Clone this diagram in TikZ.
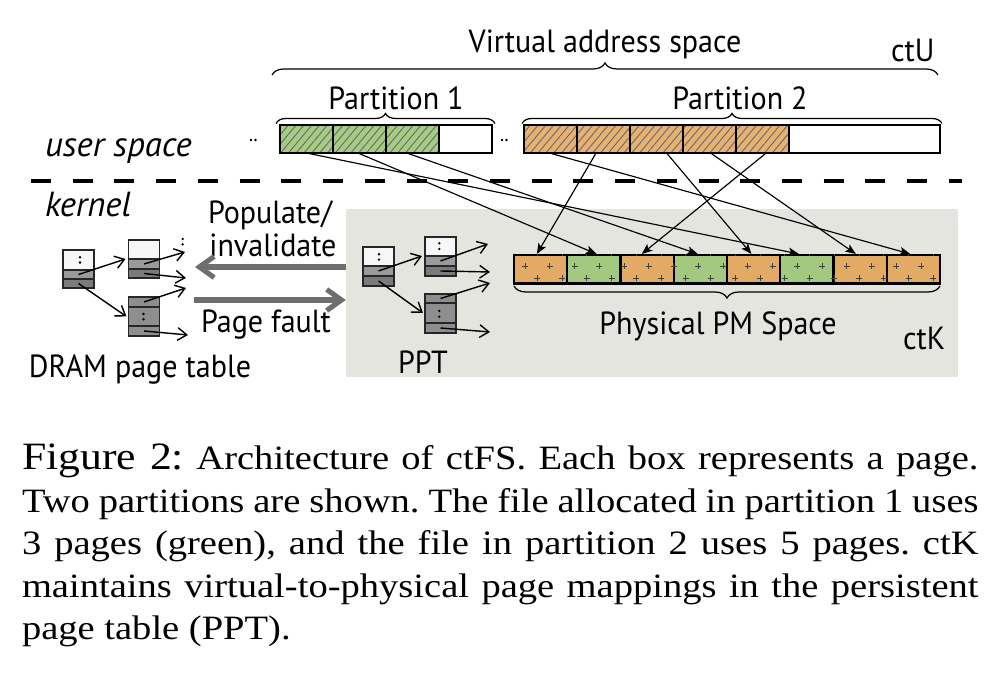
\documentclass[tikz,border=0pt]{standalone}
\usepackage{fontspec}
\usepackage{graphicx}
\usetikzlibrary{arrows.meta,decorations.pathreplacing,patterns.meta,calc}
\newfontfamily\labfont{PT Sans}[FakeStretch=0.94]
\newfontfamily\labitfont{PT Sans Italic}
\newfontfamily\capfont{Liberation Serif}
\newcommand\capline[1]{\scalebox{1.13}[1]{\hbox to 8.46cm{#1}}}
\definecolor{pmorange}{HTML}{E3AA66}
\definecolor{pmgreen}{HTML}{A2C97F}
\definecolor{vorange}{HTML}{E6B274}
\definecolor{vgreen}{HTML}{A6CB84}
\definecolor{kbg}{HTML}{E5E5E0}
\definecolor{bigarrow}{HTML}{6E6E6E}
\definecolor{ptgray}{HTML}{9A9A9A}
\definecolor{ptdark}{HTML}{7B7B7B}
\definecolor{ptmid}{HTML}{8E8E8E}
\frenchspacing
\begin{document}
\begin{tikzpicture}[x=0.01cm, y=-0.01cm,
  lab/.style={font=\labfont\fontsize{9.1}{10}\selectfont, inner sep=0pt, outer sep=0pt},
  labit/.style={font=\labitfont\fontsize{9.9}{11}\selectfont, inner sep=0pt, outer sep=0pt},
  capn/.style={font=\capfont\fontsize{9.7}{12}\selectfont, inner sep=0pt, outer sep=0pt},
  vbox/.style={draw=black, line width=0.55pt, minimum width=0.53cm, minimum height=0.28cm, inner sep=0pt, outer sep=0pt},
  vgr/.style={vbox, preaction={fill=vgreen}, pattern={Lines[angle=50,distance=1.7pt,line width=0.25pt]}, pattern color=black!60},
  vor/.style={vbox, preaction={fill=vorange}, pattern={Lines[angle=50,distance=1.7pt,line width=0.25pt]}, pattern color=black!60},
  pbox/.style={draw=black, line width=0.65pt, minimum width=0.5325cm, minimum height=0.285cm, inner sep=0pt, outer sep=0pt},
  pgr/.style={pbox, fill=pmgreen},
  por/.style={pbox, fill=pmorange},
  row/.style={draw=black!85, line width=0.45pt, minimum width=0.31cm, inner sep=0pt, outer sep=0pt},
  rw/.style={row, fill=white!97!black},
  rg/.style={row, fill=ptgray},
  rd/.style={row, fill=ptdark},
  rm/.style={row, fill=ptmid},
  ptarr/.style={line width=0.4pt, -{Straight Barb[length=2.6pt,width=3.6pt]}},
  maparr/.style={line width=0.33pt, -{Stealth[length=3pt,width=2.4pt,inset=0.7pt]}},
  bigarr/.style={draw=bigarrow, line width=1.45pt, -{Straight Barb[length=4.2pt,width=6pt]}},
  brc/.style={decorate, decoration={brace, amplitude=#1}, line width=0.35pt},
  plusm/.style={draw=black!75, line width=0.25pt},
  dotm/.style={fill=black}
]
\fill[white] (0,0) rectangle (1002,692);
\useasboundingbox (0,0) rectangle (1002,692);

% kernel background
\node[fill=kbg, minimum width=6.12cm, minimum height=1.68cm, inner sep=0pt, outer sep=0pt] (kbox) at (652,293) {};

% top labels and braces
\node[lab, anchor=base] (vas) at (605,52.5) {Virtual address space};
\node[lab, anchor=base west] (ctu) at (891,62) {ctU};
\draw[brc=0.12cm] (272,75) -- (938,75);
\node[lab, anchor=base] (p1l) at (396,110) {Partition 1};
\node[lab, anchor=base] (p2l) at (740,110) {Partition 2};
\draw[brc=0.1cm] (276,123.5) -- (495,123.5);
\draw[brc=0.1cm] (522,123.5) -- (942,123.5);

% virtual pages
\node[vgr] (v1) at (306.5,139) {};
\node[vgr] (v2) at (359.5,139) {};
\node[vgr] (v3) at (412.5,139) {};
\node[vbox, fill=white] (v4) at (465.5,139) {};
\node[vor] (w1) at (550.5,139) {};
\node[vor] (w2) at (603.5,139) {};
\node[vor] (w3) at (656.5,139) {};
\node[vor] (w4) at (709.5,139) {};
\node[vor] (w5) at (762.5,139) {};
\node[vbox, fill=white, minimum width=1.51cm] (w6) at (864.5,139) {};
\fill[dotm] (251,140) circle[radius=0.013cm] (255.5,140) circle[radius=0.013cm];
\fill[dotm] (502,140) circle[radius=0.013cm] (506.5,140) circle[radius=0.013cm];

% labels user/kernel
\node[labit, anchor=base west] (us) at (45,157) {user space};
\draw[line width=1.15pt, dash pattern=on 0.2cm off 0.217cm] (31,181) -- (962,181);
\node[labit, anchor=base west] (kn) at (45,217) {kernel};

% physical pages
\node[por] (p1) at (540.6,269.25) {};
\node[pgr] (p2) at (593.9,269.25) {};
\node[por] (p3) at (647.1,269.25) {};
\node[pgr] (p4) at (700.4,269.25) {};
\node[por] (p5) at (753.6,269.25) {};
\node[pgr] (p6) at (806.9,269.25) {};
\node[por] (p7) at (860.1,269.25) {};
\node[por] (p8) at (913.4,269.25) {};
\begin{scope}
  \clip (514,255) rectangle (940,283.5);
  \foreach \k in {0,...,16} {
    \draw[plusm] ({537.4+24.75*\k},253.5) +(-3,0) -- +(3,0) +(0,-3) -- +(0,3);
    \draw[plusm] ({525+24.75*\k},266) +(-3,0) -- +(3,0) +(0,-3) -- +(0,3);
    \draw[plusm] ({537.4+24.75*\k},278.5) +(-3,0) -- +(3,0) +(0,-3) -- +(0,3);
  }
\end{scope}
\draw[brc=0.12cm] (940,286) -- (514,286);
\node[lab, anchor=base] (phys) at (718,335) {Physical PM Space};
\node[lab, anchor=base west] (ctk) at (903,350) {ctK};

% mapping arrows
\draw[maparr] ($(v1.south west)!0.50!(v1.south east)$) -- ($(p6.north west)!0.35!(p6.north east)+(0,-1)$);
\draw[maparr] ($(v2.south west)!0.47!(v2.south east)$) -- ($(p2.north west)!0.55!(p2.north east)+(0,-1)$);
\draw[maparr] ($(v3.south west)!0.39!(v3.south east)$) -- ($(p4.north west)!0.45!(p4.north east)+(0,-1)$);
\draw[maparr] ($(w1.south west)!0.48!(w1.south east)$) -- ($(p8.north west)!0.44!(p8.north east)+(0,-1)$);
\draw[maparr] ($(w2.south west)!0.36!(w2.south east)$) -- ($(p1.north west)!0.43!(p1.north east)+(0,-1)$);
\draw[maparr] ($(w3.south west)!0.69!(w3.south east)$) -- ($(p5.north west)!0.46!(p5.north east)+(0,-1)$);
\draw[maparr] ($(w4.south west)!0.52!(w4.south east)$) -- ($(p7.north west)!0.42!(p7.north east)+(0,-1)$);
\draw[maparr] ($(w5.south west)!0.57!(w5.south east)$) -- ($(p3.north west)!0.40!(p3.north east)+(0,-1)$);

% DRAM page table
\node[rw, minimum height=0.2cm] (dr1) at (78.5,260) {};
\node[rg, minimum height=0.09cm] (dr2) at (78.5,274.5) {};
\node[rd, minimum height=0.09cm] (dr3) at (78.5,283.5) {};
\node[rw, minimum height=0.19cm] (dt1) at (144,249.5) {};
\node[rg, minimum height=0.10cm] (dt2) at (144,264) {};
\node[rd, minimum height=0.09cm] (dt3) at (144,273.5) {};
\node[rm, minimum height=0.10cm] (db1) at (144,302) {};
\node[rm, minimum height=0.19cm] (db2) at (144,316.5) {};
\node[rm, minimum height=0.10cm] (db3) at (144,331) {};
\fill[dotm] (80,257.3) circle[radius=0.013cm] (80,262.5) circle[radius=0.013cm];
\fill[dotm] (143.5,314) circle[radius=0.013cm] (143.5,319.3) circle[radius=0.013cm];
\fill[dotm] (182.7,239) circle[radius=0.013cm] (182.7,244.3) circle[radius=0.013cm];
\coordinate (de1) at (185,252);
\coordinate (de2) at (186,278);
\coordinate (de3) at (186,288);
\coordinate (de4) at (188,335);
\draw[ptarr] (dr2.center) -- ([xshift=-0.03cm]dt2.north west);
\draw[ptarr] (dr3.center) -- ([xshift=-0.02cm]db2.west);
\draw[ptarr] (dt2.center) -- (de1);
\draw[ptarr] (dt3.center) -- (de2);
\draw[ptarr] (db1.center) -- (de3);
\draw[ptarr] (db3.center) -- (de4);
\node[lab, anchor=base] (dram) at (140,378) {DRAM page table};

% PPT
\node[rw, minimum height=0.19cm] (pr1) at (378.5,256.5) {};
\node[rg, minimum height=0.10cm] (pr2) at (378.5,271) {};
\node[rd, minimum height=0.10cm] (pr3) at (378.5,281) {};
\node[rw, minimum height=0.19cm] (pt1) at (440.5,246.5) {};
\node[rg, minimum height=0.10cm] (pt2) at (440.5,261) {};
\node[rd, minimum height=0.10cm] (pt3) at (440.5,271) {};
\node[rm, minimum height=0.09cm] (pb1) at (440.5,298.5) {};
\node[rm, minimum height=0.20cm] (pb2) at (440.5,313) {};
\node[rm, minimum height=0.10cm] (pb3) at (440.5,328) {};
\fill[dotm] (379,254.3) circle[radius=0.013cm] (379,259.7) circle[radius=0.013cm];
\fill[dotm] (439.3,243.3) circle[radius=0.013cm] (439.3,249) circle[radius=0.013cm];
\fill[dotm] (439.3,311) circle[radius=0.013cm] (439.3,316.7) circle[radius=0.013cm];
\coordinate (pe1) at (488,244);
\coordinate (pe2) at (490,272);
\coordinate (pe3) at (490,283);
\coordinate (pe4) at (490,332);
\draw[ptarr] (pr2.center) -- ([xshift=-0.03cm]pt2.north west);
\draw[ptarr] (pr3.center) -- ([xshift=-0.02cm]pb2.west);
\draw[ptarr] (pt2.center) -- (pe1);
\draw[ptarr] (pt3.center) -- (pe2);
\draw[ptarr] (pb1.center) -- (pe3);
\draw[ptarr] (pb3.center) -- (pe4);
\node[lab, anchor=base] (ppt) at (423,374) {PPT};

% populate / page fault
\node[lab, anchor=base] (pop1) at (270,224) {Populate/};
\node[lab, anchor=base] (pop2) at (273,257) {invalidate};
\coordinate (popL) at (195,267);
\coordinate (pfL) at (194,300);
\draw[bigarr] (kbox.west |- popL) -- (popL);
\draw[bigarr] (pfL) -- (kbox.west |- pfL);
\node[lab, anchor=base] (pf) at (266,333) {Page fault};

% caption
\node[capn, anchor=base west] (c1) at (22,470) {\capline{{\fontsize{11}{12}\selectfont Figure 2:} Architecture of ctFS. Each box represents a page.}};
\node[capn, anchor=base west] (c2) at (22,512.5) {\capline{Two partitions are shown. The file allocated in partition 1 uses}};
\node[capn, anchor=base west] (c3) at (22,555) {\capline{3 pages (green), and the file in partition 2 uses 5 pages. ctK}};
\node[capn, anchor=base west] (c4) at (22,597.5) {\capline{maintains virtual-to-physical page mappings in the persistent}};
\node[capn, anchor=base west] (c5) at (22,640) {\scalebox{1.13}[1]{page table (PPT).}};
\end{tikzpicture}
\end{document}
